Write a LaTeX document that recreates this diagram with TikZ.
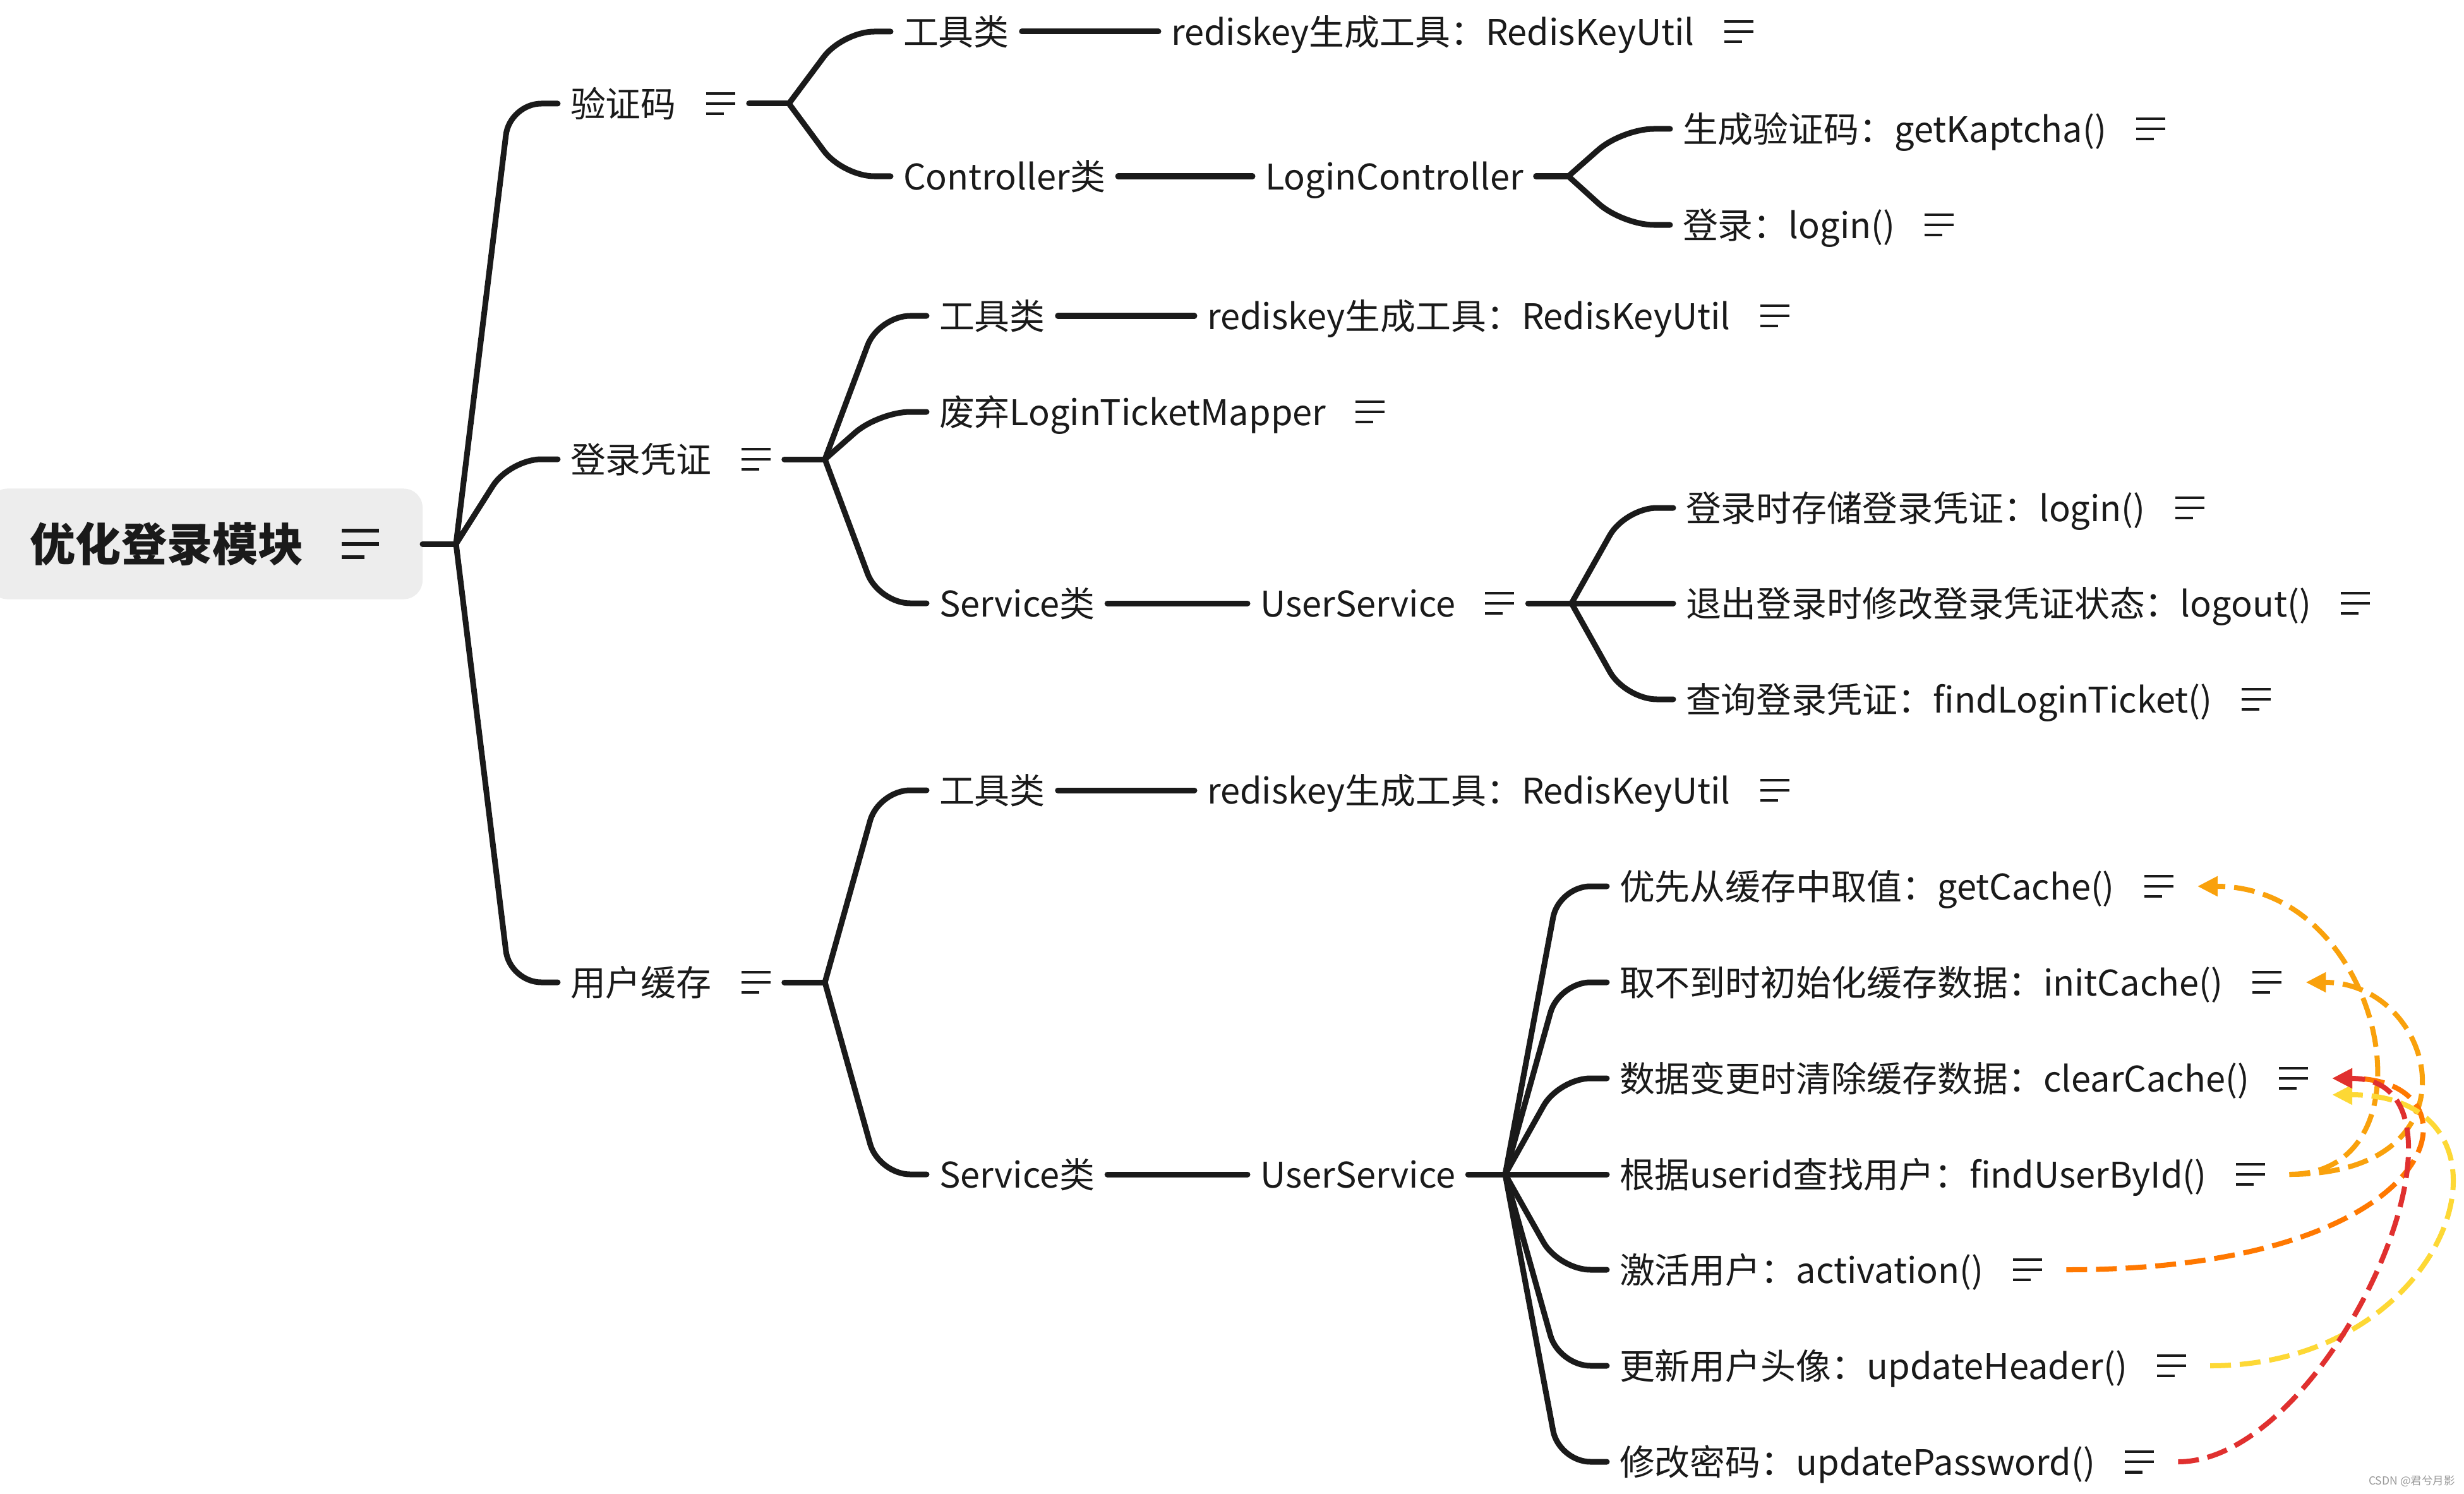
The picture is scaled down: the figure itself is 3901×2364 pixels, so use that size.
\documentclass[tikz,border=0pt]{standalone}
\usepackage{fontspec}
\setmainfont{Noto Sans CJK SC}
\usepackage{xcolor}
\usepackage{tikz}
\usetikzlibrary{arrows.meta}

\definecolor{ink}{HTML}{1A1A1A}
\definecolor{rootfill}{HTML}{EDEDED}
\definecolor{arrOrange}{HTML}{F9A10C}
\definecolor{arrDeep}{HTML}{FF7800}
\definecolor{arrYellow}{HTML}{FDD835}
\definecolor{arrRed}{HTML}{E0302F}

% note icon after a topic
\newcommand{\ico}{\hspace{0.8em}\tikz[baseline=-0.38em]{\draw[ink,line width=0.08em,line cap=butt,solid] (0,0.29em)--(0.82em,0.29em) (0,0)--(0.82em,0) (0,-0.29em)--(0.5em,-0.29em);}\hspace{0.25em}}

\tikzset{
  every node/.style={inner sep=0pt, outer xsep=0.2cm, text=ink, anchor=west,
    font=\fontsize{15.9}{19}\selectfont, text height=0.465cm, text depth=0.04cm},
  root/.style={fill=rootfill, rounded corners=0.3cm, inner xsep=0.66cm, outer sep=0pt,
    minimum height=1.75cm, text height=0.6cm, text depth=0.05cm,
    font=\bfseries\fontsize{20.5}{24}\selectfont},
  tree/.style={draw=ink, line width=0.09cm, line cap=round, rounded corners=0.5cm},
  twig/.style={to path={-- ([xshift=0.85cm]\tikztostart |- \tikztotarget) -- (\tikztotarget)}},
  link/.style={dash pattern=on 0.33cm off 0.14cm, line width=0.08cm,
    -{Triangle[length=0.32cm,width=0.3cm]}},
  wmark/.style={anchor=base west, text=black!40, outer sep=0pt, text height=, text depth=,
    font=\fontsize{5}{6}\selectfont}
}

\begin{document}
\begin{tikzpicture}[x=0.01cm,y=-0.01cm]
\useasboundingbox (0,0) rectangle (3901,2364);

% root
\node[root,anchor=east] (root) at (669,861) {优化登录模块\ico};
\coordinate (f0) at (722,861);
\draw[tree] (root) -- (f0);

% first level
\node (code) at (883,164) {验证码\ico};
\node (ticket) at (883,727) {登录凭证\ico};
\node (cache) at (883,1555) {用户缓存\ico};
\draw[tree] (f0) to[twig] (code);
\draw[tree] (f0) to[twig] (ticket);
\draw[tree] (f0) to[twig] (cache);

% 验证码
\coordinate (f1) at (1249,164);
\draw[tree] (code) -- (f1);
\node (codeUtil) at (1410,50) {工具类};
\node (codeKey) at (1834,50) {rediskey生成工具：RedisKeyUtil\ico};
\node (codeCtrl) at (1410,279) {Controller类};
\node (loginCtrl) at (1983,279) {LoginController};
\draw[tree] (f1) to[twig] (codeUtil);
\draw[tree] (f1) to[twig] (codeCtrl);
\draw[tree] (codeUtil) -- (codeKey);
\draw[tree] (codeCtrl) -- (loginCtrl);
\coordinate (f4) at (2483,279);
\draw[tree] (loginCtrl) -- (f4);
\node (kaptcha) at (2644,204) {生成验证码：getKaptcha()\ico};
\node (login) at (2644,356) {登录：login()\ico};
\draw[tree] (f4) to[twig] (kaptcha);
\draw[tree] (f4) to[twig] (login);

% 登录凭证
\coordinate (f2) at (1306,727);
\draw[tree] (ticket) -- (f2);
\node (ticketUtil) at (1467,500) {工具类};
\node (ticketKey) at (1891,500) {rediskey生成工具：RedisKeyUtil\ico};
\node (mapper) at (1467,652) {废弃LoginTicketMapper\ico};
\node (ticketSvc) at (1467,955) {Service类};
\node (ticketUser) at (1975,955) {UserService\ico};
\draw[tree] (f2) to[twig] (ticketUtil);
\draw[tree] (f2) to[twig] (mapper);
\draw[tree] (f2) to[twig] (ticketSvc);
\draw[tree] (ticketUtil) -- (ticketKey);
\draw[tree] (ticketSvc) -- (ticketUser);
\coordinate (f5) at (2488,955);
\draw[tree] (ticketUser) -- (f5);
\node (store) at (2649,804) {登录时存储登录凭证：login()\ico};
\node (logout) at (2649,955) {退出登录时修改登录凭证状态：logout()\ico};
\node (findTicket) at (2649,1107) {查询登录凭证：findLoginTicket()\ico};
\draw[tree] (f5) to[twig] (store);
\draw[tree] (f5) to[twig] (logout);
\draw[tree] (f5) to[twig] (findTicket);

% 用户缓存
\coordinate (f3) at (1306,1555);
\draw[tree] (cache) -- (f3);
\node (cacheUtil) at (1467,1251) {工具类};
\node (cacheKey) at (1891,1251) {rediskey生成工具：RedisKeyUtil\ico};
\node (cacheSvc) at (1467,1859) {Service类};
\node (cacheUser) at (1975,1859) {UserService};
\draw[tree] (f3) to[twig] (cacheUtil);
\draw[tree] (f3) to[twig] (cacheSvc);
\draw[tree] (cacheUtil) -- (cacheKey);
\draw[tree] (cacheSvc) -- (cacheUser);
\coordinate (f6) at (2383,1859);
\draw[tree] (cacheUser) -- (f6);
\node (getC) at (2544,1403) {优先从缓存中取值：getCache()\ico};
\node (initC) at (2544,1555) {取不到时初始化缓存数据：initCache()\ico};
\node (clearC) at (2544,1707) {数据变更时清除缓存数据：clearCache()\ico};
\node (findU) at (2544,1859) {根据userid查找用户：findUserById()\ico};
\node (activ) at (2544,2010) {激活用户：activation()\ico};
\node (header) at (2544,2162) {更新用户头像：updateHeader()\ico};
\node (pwd) at (2544,2314) {修改密码：updatePassword()\ico};
\draw[tree] (f6) to[twig] (getC);
\draw[tree] (f6) to[twig] (initC);
\draw[tree] (f6) to[twig] (clearC);
\draw[tree] (f6) to[twig] (findU);
\draw[tree] (f6) to[twig] (activ);
\draw[tree] (f6) to[twig] (header);
\draw[tree] (f6) to[twig] (pwd);

% cache calls
\draw[link,arrOrange] ([xshift=0.16cm]findU.east) .. controls +(240,0) and +(297,0) .. ([xshift=0.16cm]getC.east);
\draw[link,arrOrange] ([xshift=0.16cm]findU.east) .. controls +(310,0) and +(207,0) .. ([xshift=0.16cm]initC.east);
\draw[link,arrDeep] ([xshift=0.16cm]activ.east) .. controls +(611,0) and +(245,0) .. ([xshift=0.16cm]clearC.east);
\draw[link,arrYellow] ([xshift=0.16cm]header.east) .. controls +(390,0) and +(325,0) .. ([xshift=0.16cm,yshift=-0.26cm]clearC.east);
\draw[link,arrRed] ([xshift=0.16cm]pwd.east) .. controls +(242,0) and +(265,0) .. ([xshift=0.16cm]clearC.east);

\node[wmark] (csdn) at (3750,2350) {CSDN @君兮月影};
\end{tikzpicture}
\end{document}
